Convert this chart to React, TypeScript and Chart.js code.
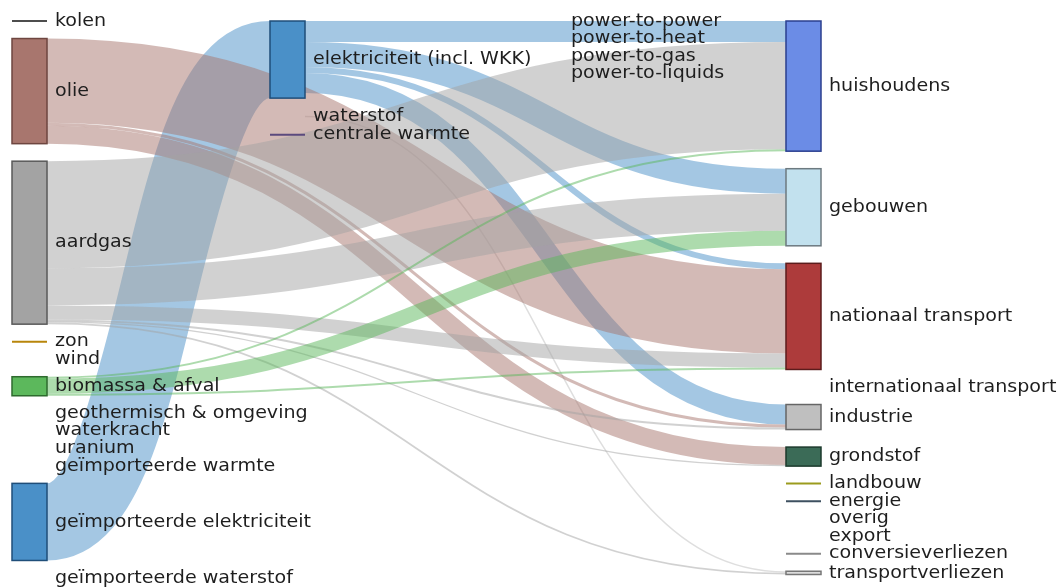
import { useEffect, useRef } from 'react';
import { Chart, registerables } from 'chart.js';

Chart.register(...registerables);

// ---------- data ----------
const nodeNames = [
  'kolen', 'olie', 'aardgas', 'zon', 'wind', 'biomassa & afval',
  'geothermisch & omgeving', 'waterkracht', 'uranium', 'geïmporteerde warmte',
  'geïmporteerde elektriciteit', 'geïmporteerde waterstof',
  'elektriciteit (incl. WKK)', 'waterstof', 'centrale warmte',
  'power-to-power', 'power-to-heat', 'power-to-gas', 'power-to-liquids',
  'huishoudens', 'gebouwen', 'nationaal transport', 'internationaal transport',
  'industrie', 'grondstof', 'landbouw', 'energie', 'overig', 'export',
  'conversieverliezen', 'transportverliezen',
];
const nodeColumns = [
  0, 0, 0, 0, 0, 0, 0, 0, 0, 0, 0, 0,
  1, 1, 1,
  2, 2, 2, 2,
  3, 3, 3, 3, 3, 3, 3, 3, 3, 3, 3, 3,
];

// flows (PJ)
const linkSources = [
  'geïmporteerde elektriciteit',
  'elektriciteit (incl. WKK)', 'elektriciteit (incl. WKK)', 'elektriciteit (incl. WKK)',
  'elektriciteit (incl. WKK)',
  'waterstof',
  'olie', 'olie', 'olie',
  'aardgas', 'aardgas', 'aardgas', 'aardgas', 'aardgas', 'aardgas',
  'biomassa & afval', 'biomassa & afval', 'biomassa & afval',
];
const linkTargets = [
  'elektriciteit (incl. WKK)',
  'huishoudens', 'gebouwen', 'nationaal transport', 'industrie',
  'transportverliezen',
  'nationaal transport', 'industrie', 'grondstof',
  'huishoudens', 'gebouwen', 'nationaal transport', 'industrie', 'grondstof', 'transportverliezen',
  'huishoudens', 'gebouwen', 'nationaal transport',
];
const linkValues = [
  616,
  168, 200, 48, 160,
  12,
  672, 24, 144,
  856, 296, 112, 16, 8, 14,
  16, 120, 16,
];

// ---------- styles ----------
const nodeFill: (string | null)[] = [
  '#4d4d4d', '#a8766e', '#a3a3a3', '#b8860b', null, '#5cb85c',
  null, null, null, null, '#4a90c8', null,
  '#4a90c8', null, '#5b4a7e',
  null, null, null, null,
  '#6b8ce6', '#c2e1ee', '#ad3b3b', null, '#bfbfbf', '#3b6b57',
  '#9b9b1e', '#3e5060', null, null, '#8a8a8a', '#dcdcdc',
];
const nodeBorder: (string | null)[] = [
  null, '#6e4640', '#5a5a5a', null, null, '#2e6b2e',
  null, null, null, null, '#1f4e79', null,
  '#1f4e79', null, null,
  null, null, null, null,
  '#2b3f8f', '#6d7a80', '#5c1c1c', null, '#666666', '#1c3a2c',
  null, null, null, null, null, '#777777',
];
const NODE_PAD = 140; // same units as values
const NODE_WIDTH = 35; // px
const LABEL_GAP = 8; // px
const LINK_ALPHA = 0.5;
const DEFAULT_LINK = 'rgba(0,0,0,0.13)';
const FONT = '18px "DejaVu Sans", Verdana, sans-serif';
const TEXT_STRETCH = 1.06;

function hexToRgba(hex: string, a: number) {
  const h = hex.replace('#', '');
  const r = parseInt(h.slice(0, 2), 16);
  const g = parseInt(h.slice(2, 4), 16);
  const b = parseInt(h.slice(4, 6), 16);
  return `rgba(${r},${g},${b},${a})`;
}

function computeLayout() {
  const n = nodeNames.length;
  const idx = (name: string) => nodeNames.indexOf(name);
  const src = linkSources.map(idx);
  const tgt = linkTargets.map(idx);
  const inSum = new Array(n).fill(0);
  const outSum = new Array(n).fill(0);
  linkValues.forEach((v, i) => {
    outSum[src[i]] += v;
    inSum[tgt[i]] += v;
  });
  const value = nodeNames.map((_, i) => Math.max(inSum[i], outSum[i]));
  const y0: number[] = [];
  const y1: number[] = [];
  const cursor: Record<number, number> = {};
  for (let i = 0; i < n; i++) {
    const c = nodeColumns[i];
    const start = cursor[c] ?? 0;
    y0[i] = start;
    y1[i] = start + value[i];
    cursor[c] = y1[i] + NODE_PAD;
  }
  const yMax = Math.max(...Object.values(cursor).map((v) => v - NODE_PAD));
  const sy: number[] = [];
  const ty: number[] = [];
  for (let node = 0; node < n; node++) {
    const outs = linkValues.map((_, i) => i).filter((i) => src[i] === node)
      .sort((a, b) => y0[tgt[a]] - y0[tgt[b]]);
    let off = y0[node];
    outs.forEach((i) => { sy[i] = off; off += linkValues[i]; });
    const ins = linkValues.map((_, i) => i).filter((i) => tgt[i] === node)
      .sort((a, b) => y0[src[a]] - y0[src[b]]);
    off = y0[node];
    ins.forEach((i) => { ty[i] = off; off += linkValues[i]; });
  }
  return { src, tgt, value, y0, y1, yMax, sy, ty };
}

type Layout = ReturnType<typeof computeLayout>;

function sankeyPlugin(L: Layout) {
  return {
    id: 'sankeyDraw',
    afterDatasetsDraw(chart: any) {
      const { ctx } = chart;
      const xs = chart.scales.x;
      const ys = chart.scales.y;
      const px = (c: number) => xs.getPixelForValue(c);
      const py = (v: number) => ys.getPixelForValue(v);
      ctx.save();
      // links
      linkValues.forEach((v, i) => {
        const s = L.src[i];
        const t = L.tgt[i];
        const x0 = px(nodeColumns[s]) + NODE_WIDTH;
        const x1 = px(nodeColumns[t]);
        const ya = py(L.sy[i] + v / 2);
        const yb = py(L.ty[i] + v / 2);
        const w = Math.abs(py(v) - py(0));
        const xm = (x0 + x1) / 2;
        ctx.beginPath();
        ctx.moveTo(x0, ya);
        ctx.bezierCurveTo(xm, ya, xm, yb, x1, yb);
        ctx.lineWidth = Math.max(w, 1.2);
        ctx.lineCap = 'butt';
        const f = nodeFill[s];
        ctx.strokeStyle = f ? hexToRgba(f, LINK_ALPHA) : DEFAULT_LINK;
        ctx.stroke();
      });
      // nodes
      nodeNames.forEach((_, i) => {
        const fill = nodeFill[i];
        if (!fill) return;
        const x = px(nodeColumns[i]);
        const top = py(L.y0[i]);
        const bot = py(L.y1[i]);
        const border = nodeBorder[i];
        if (border && L.value[i] > 0) {
          ctx.fillStyle = fill;
          ctx.fillRect(x, top, NODE_WIDTH, bot - top);
          ctx.lineWidth = 1.5;
          ctx.strokeStyle = border;
          ctx.strokeRect(x, top, NODE_WIDTH, bot - top);
        } else {
          ctx.beginPath();
          ctx.moveTo(x, (top + bot) / 2);
          ctx.lineTo(x + NODE_WIDTH, (top + bot) / 2);
          ctx.lineWidth = 2;
          ctx.strokeStyle = fill;
          ctx.stroke();
        }
      });
      // labels
      ctx.font = FONT;
      ctx.fillStyle = '#1e1e1e';
      ctx.textBaseline = 'middle';
      ctx.textAlign = 'left';
      nodeNames.forEach((name, i) => {
        const x = px(nodeColumns[i]) + NODE_WIDTH + LABEL_GAP;
        const y = (py(L.y0[i]) + py(L.y1[i])) / 2;
        ctx.save();
        ctx.translate(x, y);
        ctx.scale(TEXT_STRETCH, 1);
        ctx.fillText(name, 0, 0);
        ctx.restore();
      });
      ctx.restore();
    },
  };
}

export default function App() {
  const ref = useRef<HTMLCanvasElement>(null);
  useEffect(() => {
    const L = computeLayout();
    const chart = new Chart(ref.current as HTMLCanvasElement, {
      type: 'scatter',
      data: {
        datasets: [{
          label: 'nodes',
          data: nodeNames.map((_, i) => ({ x: nodeColumns[i], y: (L.y0[i] + L.y1[i]) / 2 })),
          pointRadius: 0,
          pointHoverRadius: 0,
        }],
      },
      options: {
        animation: false,
        responsive: true,
        maintainAspectRatio: false,
        events: [],
        layout: { padding: { left: 12, top: 21, right: 273, bottom: 9 } },
        plugins: { legend: { display: false }, tooltip: { enabled: false } },
        scales: {
          x: { type: 'linear', min: 0, max: 3, display: false, bounds: 'data' },
          y: { type: 'linear', min: 0, max: L.yMax, reverse: true, display: false, bounds: 'data' },
        },
      },
      plugins: [sankeyPlugin(L)],
    } as any);
    return () => chart.destroy();
  }, []);
  return (
    <div style={{ position: 'fixed', left: 0, top: 0, width: 1059, height: 587 }}>
      <canvas ref={ref} />
    </div>
  );
}
